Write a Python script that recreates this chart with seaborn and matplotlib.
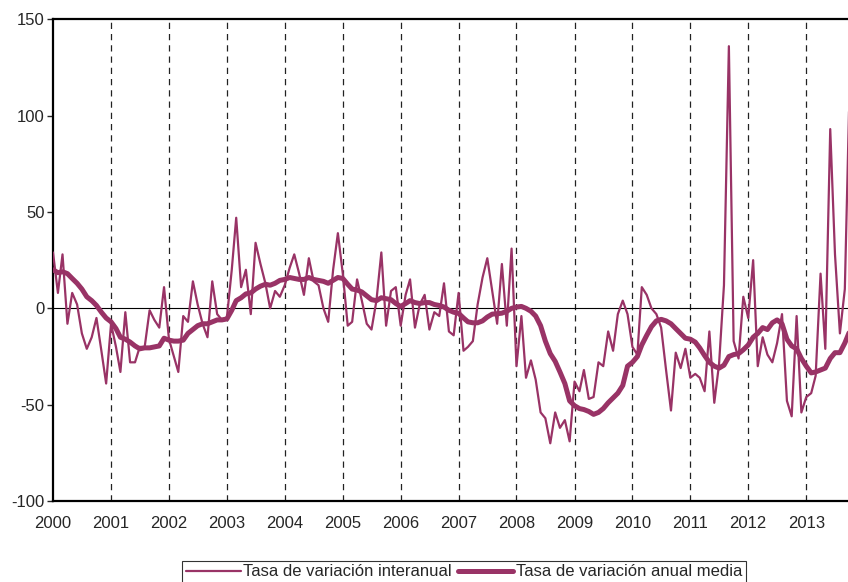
import numpy as np
import pandas as pd
import matplotlib
matplotlib.use("Agg")
import matplotlib.pyplot as plt
import matplotlib.dates as mdates
import seaborn as sns

sns.set_style("white")
plt.rcParams['font.family'] = ['Liberation Sans', 'DejaVu Sans']
plt.rcParams['axes.unicode_minus'] = False

# series mensuales, enero 2000 - octubre 2013
interanual = [
    29, 8, 28, -8, 8, 2, -13, -21, -15, -5, -22, -39,          # 2000
    -8, -20, -33, -2, -28, -28, -20, -20, -1, -6, -10, 11,     # 2001
    -16, -25, -33, -4, -7, 14, 2, -8, -15, 14, -3, -6,         # 2002
    -5, 20, 47, 11, 20, -3, 34, 23, 13, 0, 9, 6,               # 2003
    12, 21, 28, 18, 7, 26, 14, 12, 0, -7, 20, 39,              # 2004
    18, -9, -7, 15, 4, -8, -11, 4, 29, -9, 9, 11,              # 2005
    -9, 7, 15, -10, 2, 7, -11, -2, -4, 13, -12, -14,           # 2006
    8, -22, -20, -17, 2, 16, 26, 9, -8, 23, -9, 31,            # 2007
    -30, -4, -36, -27, -37, -54, -57, -70, -54, -62, -58, -69, # 2008
    -38, -43, -32, -47, -46, -28, -30, -12, -22, -3, 4, -3,    # 2009
    -20, -24, 11, 7, 0, -3, -10, -32, -53, -23, -31, -21,      # 2010
    -36, -34, -36, -43, -12, -49, -29, 12, 136, -17, -26, 6,   # 2011
    -5, 25, -30, -15, -24, -28, -18, -3, -48, -56, -4, -54,    # 2012
    -46, -44, -35, 18, -21, 93, 28, -13, 10, 115,              # 2013
]
anual_media = [
    20, 18.5, 19, 18, 15.5, 13, 10, 6, 4, 1.5, -2, -5,
    -7, -10.5, -15, -16, -17.5, -19.5, -21, -20.5, -20.5, -20, -19.5, -15.5,
    -16.5, -17, -17, -16.5, -13, -11, -9, -8, -8, -7, -6, -6,
    -5.5, -1, 4, 5.5, 7.5, 8, 10, 11.5, 12.5, 12, 13, 14.5,
    15, 16, 15.5, 15, 15, 16, 15, 14.5, 14, 13, 14.5, 16,
    15.5, 12.5, 10, 9.5, 8.5, 6.5, 4.5, 4, 5.5, 5, 4.5, 2.5,
    1, 2.5, 4, 3, 2.5, 3, 3, 2, 1.5, 0.7, -1, -2,
    -2.6, -5, -7, -7.5, -7.5, -6.5, -4.5, -3, -2.8, -2.5, -1.5, 0,
    0.7, 1, 0, -1.5, -4, -9, -17, -23.5, -27.5, -33, -39, -48,
    -50.5, -52, -52.5, -53.5, -55, -54, -52, -49, -46.5, -44, -40, -30,
    -28, -25, -19, -14, -9.5, -6.5, -5.7, -6.5, -8, -10.5, -13, -15.5,
    -16, -17.5, -20.5, -24.5, -28, -30, -31, -29.5, -25, -24, -23.5, -21.5,
    -19, -15, -13, -10, -11, -7.5, -6, -8, -16, -19.5, -21, -26,
    -30, -33.5, -33, -32, -31, -26, -23, -23, -18, -12,
]
fechas = pd.date_range("2000-01-01", periods=len(interanual), freq="MS")
etiquetas = ["Tasa de variación interanual", "Tasa de variación anual media"]

color = "#993366"
fs = 12

fig = plt.figure(figsize=(8.48, 5.82), dpi=100)
ax = fig.add_axes([0.0625, 0.139, 0.9375, 0.828])

for yr in range(2001, 2014):
    ax.axvline(pd.Timestamp(f"{yr}-01-01"), color="#222222", lw=0.9,
               linestyle=(0, (5, 4)), zorder=1)
ax.axhline(0, color="black", lw=0.8, zorder=1)

sns.lineplot(x=fechas, y=interanual, ax=ax, color=color, lw=1.6,
             label=etiquetas[0], legend=False, zorder=3)
sns.lineplot(x=fechas, y=anual_media, ax=ax, color=color, lw=3.6,
             label=etiquetas[1], legend=False, zorder=4)

ax.set_ylim(-100, 150)
ax.set_yticks([-100, -50, 0, 50, 100, 150])
ax.set_xlim(pd.Timestamp("2000-01-01"), pd.Timestamp("2013-09-21"))
ax.xaxis.set_major_locator(mdates.YearLocator())
ax.xaxis.set_major_formatter(mdates.DateFormatter("%Y"))
ax.set_xlabel("")
ax.set_ylabel("")

for s in ["left", "bottom", "top"]:
    ax.spines[s].set_color("black")
    ax.spines[s].set_linewidth(1.6)
ax.spines["right"].set_visible(False)

ax.tick_params(axis="y", length=4, width=1, direction="out", left=True,
               labelsize=fs, pad=2)
ax.tick_params(axis="x", length=0, labelsize=fs, pad=11)

h, l = ax.get_legend_handles_labels()
leg = fig.legend(h, l, loc="upper center", bbox_to_anchor=(0.547, 0.036),
                 ncol=2, frameon=True, fancybox=False, fontsize=fs,
                 handlelength=3.3, handletextpad=0.15, columnspacing=0.4,
                 borderpad=0.2, borderaxespad=0)
leg.get_frame().set_edgecolor("black")
leg.get_frame().set_linewidth(0.8)

fig.savefig("out.png", dpi=100)
